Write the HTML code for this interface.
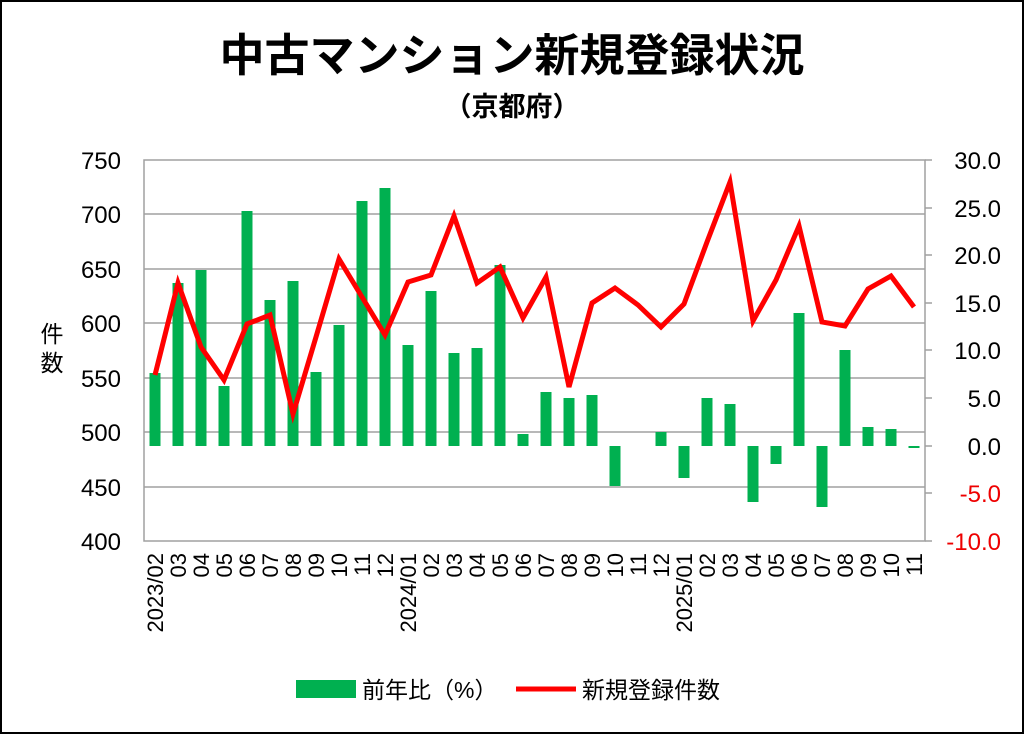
<!DOCTYPE html><html><head><meta charset="utf-8"><style>
body{margin:0;background:#fff}
svg text{font-family:"Liberation Sans","Noto Sans CJK JP",sans-serif}
</style></head><body>
<svg width="1024" height="734" xmlns="http://www.w3.org/2000/svg">
<rect x="1" y="1" width="1022" height="732" fill="#fff" stroke="#000" stroke-width="2"/>
<text x="512" y="71" font-size="45" font-weight="bold" text-anchor="middle">中古マンション新規登録状況</text>
<text x="512" y="116" font-size="27" font-weight="bold" text-anchor="middle">（京都府）</text>
<g stroke="#a0a0a0" stroke-width="1.5">
<line x1="144" y1="214" x2="925" y2="214"/><line x1="144" y1="269" x2="925" y2="269"/>
<line x1="144" y1="323" x2="925" y2="323"/><line x1="144" y1="378" x2="925" y2="378"/>
<line x1="144" y1="432" x2="925" y2="432"/><line x1="144" y1="487" x2="925" y2="487"/>
<rect x="144" y="160" width="781" height="381" fill="none"/>
<line x1="925" y1="160" x2="932" y2="160"/><line x1="925" y1="208" x2="932" y2="208"/><line x1="925" y1="255" x2="932" y2="255"/><line x1="925" y1="303" x2="932" y2="303"/><line x1="925" y1="350" x2="932" y2="350"/><line x1="925" y1="398" x2="932" y2="398"/><line x1="925" y1="446" x2="932" y2="446"/><line x1="925" y1="493" x2="932" y2="493"/><line x1="925" y1="541" x2="932" y2="541"/>
</g>
<g font-size="24" text-anchor="end">
<text x="121" y="169">750</text><text x="121" y="223">700</text><text x="121" y="278">650</text><text x="121" y="332">600</text><text x="121" y="387">550</text><text x="121" y="441">500</text><text x="121" y="496">450</text><text x="121" y="550">400</text>
</g>
<g font-size="24" text-anchor="end">
<text x="1001" y="169">30.0</text><text x="1001" y="217">25.0</text><text x="1001" y="264">20.0</text><text x="1001" y="312">15.0</text><text x="1001" y="359">10.0</text><text x="1001" y="407">5.0</text><text x="1001" y="455">0.0</text>
<text x="1001" y="502" fill="#e00">-5.0</text><text x="1001" y="550" fill="#e00">-10.0</text>
</g>
<text x="52" y="342" font-size="23" text-anchor="middle">件</text><text x="52" y="371" font-size="23" text-anchor="middle">数</text>
<g id="bars" fill="#00b050"></g>
<polyline id="ln" fill="none" stroke="#f00" stroke-width="5" stroke-linejoin="miter"/>
<g id="xl" font-size="22"></g>
<rect x="296" y="680" width="60" height="18" fill="#00b050"/>
<text x="362" y="698" font-size="23">前年比（%）</text>
<line x1="516" y1="689" x2="576" y2="689" stroke="#f00" stroke-width="5"/>
<text x="582" y="698" font-size="23">新規登録件数</text>
</svg>
<script>
var tops=[373,283,270,386,211,300,281,372,325,201,188,345,291,353,348,265,434,392,398,395,486,446,432,478,398,404,502,464,313,507,350,427,429,448];
var ly=[375,283,347,380,324,315,414,337,259,297,335,282,275,216,283,267,318,277,387,303,288,305,327,304,242,182,321,280,226,322,326,289,276,307];
var labs=["2023/02","03","04","05","06","07","08","09","10","11","12","2024/01","02","03","04","05","06","07","08","09","10","11","12","2025/01","02","03","04","05","06","07","08","09","10","11"];
var ns="http://www.w3.org/2000/svg",b=document.getElementById("bars"),xl=document.getElementById("xl"),pts=[];
for(var i=0;i<34;i++){var cx=155+i*23;
 var t=tops[i],y=Math.min(t,446),h=Math.abs(t-446);if(h<2){h=2;y=446;}
 if(i!=21){var r=document.createElementNS(ns,"rect");r.setAttribute("x",cx-5.5);r.setAttribute("y",y);r.setAttribute("width",11);r.setAttribute("height",h);b.appendChild(r);}
 pts.push(cx+","+ly[i]);
 var tx=document.createElementNS(ns,"text");tx.setAttribute("transform","translate("+(cx+8)+",553) rotate(-90)");tx.setAttribute("text-anchor","end");tx.textContent=labs[i];xl.appendChild(tx);}
document.getElementById("ln").setAttribute("points",pts.join(" "));
</script>
</body></html>
